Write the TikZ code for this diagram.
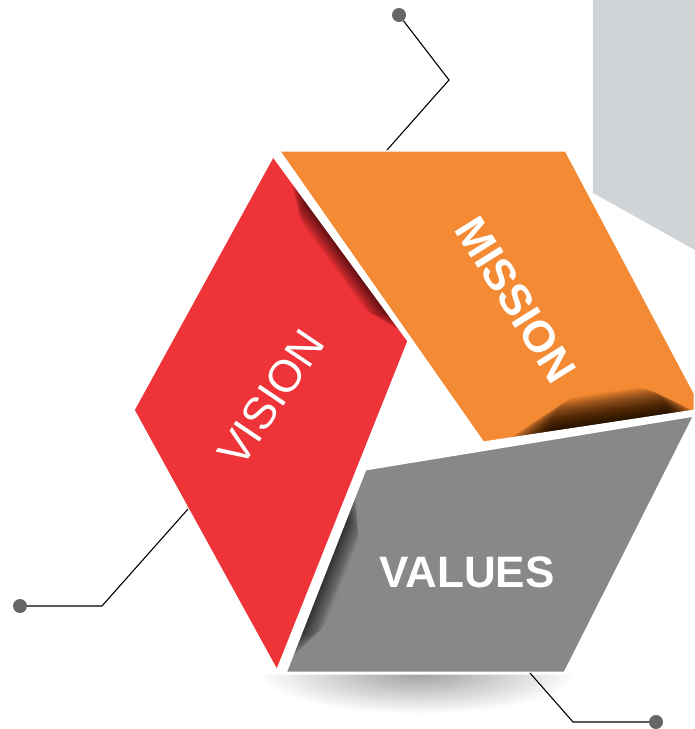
\documentclass[tikz,border=0pt]{standalone}
\usepackage{fontspec}
\setmainfont{Liberation Sans}
\usetikzlibrary{calc}

\definecolor{visionred}{HTML}{EE3339}
\definecolor{missionorange}{HTML}{F48A33}
\definecolor{valuesgray}{HTML}{878887}
\definecolor{backgray}{HTML}{D1D4D7}
\definecolor{dotgray}{HTML}{666666}

\begin{document}
\begin{tikzpicture}[x=1pt,y=-1pt,
    panel/.style={draw=white, line width=3pt, line join=miter},
    panellabel/.style={text=white, inner sep=0pt, font=\fontsize{45}{45}\selectfont},
    shadowline/.style={black, opacity=0.02, line cap=round},
    leader/.style={black, line width=1.1pt},
    leaderdot/.style={circle, fill=dotgray, inner sep=0pt, minimum size=14pt}]
    \useasboundingbox (0,0) rectangle (695,729);
    \fill[white] (0,0) rectangle (695,729);
    % BACKGROUND
    \fill[backgray] (593,0) -- (695,0) -- (695,250) -- (593,193) -- cycle;
    % CORNERS
    \coordinate (r1) at (273,155);
    \coordinate (r2) at (409,341);
    \coordinate (r3) at (277,672);
    \coordinate (r4) at (133,410);
    \coordinate (o1) at (278,150);
    \coordinate (o2) at (566,150);
    \coordinate (o3) at (695,393);
    \coordinate (o4) at (695,411);
    \coordinate (o5) at (483,443);
    \coordinate (g1) at (365,469);
    \coordinate (g2) at (695,415);
    \coordinate (g3) at (565,673);
    \coordinate (g4) at (285,673);
    % shadow under values
    \begin{scope}
      \clip (0,674) rectangle (695,729);
      \shade[inner color=black!38, outer color=white] (418,672) ellipse (160 and 42);
    \end{scope}
    % VISION panel
    \fill[visionred] (r1) -- (r2) -- (r3) -- (r4) -- cycle;
    \begin{scope}
      \clip (r1) -- (r2) -- (r3) -- (r4) -- cycle;
      \foreach \w in {1,2,...,34}
        \draw[shadowline, opacity=0.025, line width=\w pt, shorten <=30pt+\w*1.3pt, shorten >=10pt+\w*1.3pt] (r1) -- (r2);
    \end{scope}
    % MISSION panel
    \fill[missionorange] (o1) -- (o2) -- (o3) -- (o4) -- (o5) -- cycle;
    \begin{scope}
      \clip (o1) -- (o2) -- (o3) -- (o4) -- (o5) -- cycle;
      \foreach \w in {1,2,...,64}
        \draw[shadowline, opacity=0.025, line width=\w pt, shorten <=25pt+\w*1.2pt, shorten >=\w*0.9pt] (o5) -- (o4);
    \end{scope}
    % VALUES panel
    \fill[valuesgray] (g1) -- (g2) -- (g3) -- (g4) -- cycle;
    \begin{scope}
      \clip (g1) -- (g2) -- (g3) -- (g4) -- cycle;
      \foreach \w in {1,2,...,40}
        \draw[shadowline, line width=\w pt, shorten <=15pt+\w*1.2pt, shorten >=25pt+\w*1.2pt] (g4) -- (g1);
    \end{scope}
    % white gaps
    \draw[panel] (r1) -- (r2) -- (r3) -- (r4) -- cycle;
    \draw[panel] (o1) -- (o2) -- (o3) -- (o4) -- (o5) -- cycle;
    \draw[panel] (g1) -- (g2) -- (g3) -- (g4) -- cycle;
    % LABELS
    \node[panellabel, rotate=56] (visiontext) at (271,398) {VISION};
    \node[panellabel, font=\fontsize{44}{44}\selectfont\bfseries, rotate=-58] (missiontext) at (516,300) {MISSION};
    \node[panellabel, font=\fontsize{44}{44}\selectfont\bfseries] (valuestext) at (467,572) {VALUES};
    % LEADERS
    \coordinate (missionend) at (387,150);
    \coordinate (missionbend) at (449,80);
    \node[leaderdot] (missiondot) at (399,15) {};
    \draw[leader] (missionend) -- (missionbend) -- (missiondot);
    \coordinate (visionend) at (188,509);
    \coordinate (visionbend) at (102,606);
    \node[leaderdot] (visiondot) at (20,606) {};
    \draw[leader] (visionend) -- (visionbend) -- (visiondot);
    \coordinate (valuesend) at (530,673);
    \coordinate (valuesbend) at (573,722);
    \node[leaderdot] (valuesdot) at (656,722) {};
    \draw[leader] (valuesend) -- (valuesbend) -- (valuesdot);
\end{tikzpicture}
\end{document}
